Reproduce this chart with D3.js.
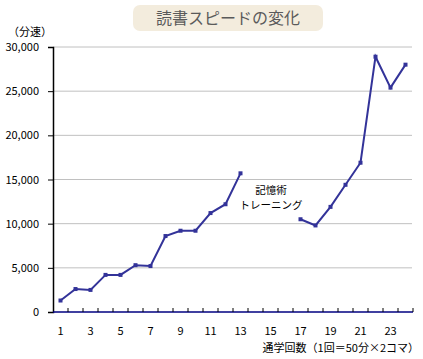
<!DOCTYPE html>
<html>
<head>
<meta charset="utf-8">
<script src="https://cdn.jsdelivr.net/npm/d3@7"></script>
<style>
body { margin: 0; background: #fff; }
text { font-family: "Noto Sans CJK JP", sans-serif; }
</style>
</head>
<body>
<svg id="chart" width="423" height="359"></svg>
<script>
// data
var sessions = d3.range(1, 25);
var speed = [1300, 2600, 2500, 4200, 4200, 5300, 5200, 8600, 9200, 9200, 11200, 12200, 15700,
  null, null, null, 10500, 9800, 11900, 14400, 16900, 28900, 25400, 28000];
var yTicks = [0, 5000, 10000, 15000, 20000, 25000, 30000];
var xLabels = [1, 3, 5, 7, 9, 11, 13, 15, 17, 19, 21, 23];

var margin = {top: 47, right: 10, bottom: 47, left: 53},
width = 423 - margin.left - margin.right,
height = 359 - margin.top - margin.bottom;

var svg = d3.select("#chart");

// title box
svg.append("rect")
.attr("x", 133).attr("y", 5).attr("width", 190).attr("height", 26)
.attr("rx", 7)
.attr("fill", "#f3ecdd");
svg.append("text")
.attr("x", 228).attr("y", 24)
.attr("text-anchor", "middle")
.attr("font-size", 16)
.attr("fill", "#5a5a5a")
.text("読書スピードの変化");

var g = svg.append("g")
.attr("transform", "translate(" + margin.left + "," + margin.top + ")");

var x = d3.scaleBand()
.domain(sessions)
.range([0, 360]);

var y = d3.scaleLinear()
.domain([0, 30000])
.range([height, 0]);

// gridlines
g.selectAll(".grid")
.data(yTicks.filter(function(d) { return d > 0; }))
.enter().append("line")
.attr("x1", 0).attr("x2", 359)
.attr("y1", function(d) { return y(d); })
.attr("y2", function(d) { return y(d); })
.attr("stroke", "#c0c0c0");

// y axis
var yAxis = g.append("g")
.call(d3.axisLeft(y).tickValues(yTicks).tickFormat(d3.format(",")).tickSize(5).tickPadding(9));
yAxis.select(".domain").attr("stroke", "#000").attr("stroke-width", 1.5);
yAxis.selectAll("text").attr("font-size", 11).attr("fill", "#000");

// x axis
var xAxis = g.append("g")
.attr("transform", "translate(0," + height + ")");
xAxis.append("line")
.attr("x1", 0).attr("x2", 360)
.attr("stroke", "#000080").attr("stroke-width", 1.5);
xAxis.selectAll(".tk")
.data(sessions)
.enter().append("line")
.attr("x1", function(d) { return x(d) + x.bandwidth(); })
.attr("x2", function(d) { return x(d) + x.bandwidth(); })
.attr("y1", -4).attr("y2", 0)
.attr("stroke", "#000");
xAxis.selectAll(".lbl")
.data(xLabels)
.enter().append("text")
.attr("x", function(d) { return x(d) + x.bandwidth() / 2; })
.attr("y", 23)
.attr("text-anchor", "middle")
.attr("font-size", 11)
.text(function(d) { return d; });

// labels
svg.append("text")
.attr("x", 8).attr("y", 36)
.attr("font-size", 11)
.text("（分速）");
svg.append("text")
.attr("x", 419).attr("y", 352)
.attr("text-anchor", "end")
.attr("font-size", 11)
.text("通学回数（1回＝50分×2コマ）");
svg.append("text")
.attr("x", 271).attr("y", 194)
.attr("text-anchor", "middle")
.attr("font-size", 10.5)
.text("記憶術");
svg.append("text")
.attr("x", 271).attr("y", 209)
.attr("text-anchor", "middle")
.attr("font-size", 10.5)
.text("トレーニング");

// line
var pts = sessions.map(function(d, i) { return {s: d, v: speed[i]}; });
g.append("path")
.datum(pts)
.attr("fill", "none")
.attr("stroke", "#333399")
.attr("stroke-width", 2)
.attr("d", d3.line()
    .defined(function(d) { return d.v != null; })
    .x(function(d) { return x(d.s) + x.bandwidth() / 2; })
    .y(function(d) { return y(d.v); })
);

g.selectAll(".pt")
.data(pts.filter(function(d) { return d.v != null; }))
.enter().append("rect")
.attr("x", function(d) { return x(d.s) + x.bandwidth() / 2 - 2; })
.attr("y", function(d) { return y(d.v) - 2; })
.attr("width", 4).attr("height", 4)
.attr("fill", "#333399");
</script>
</body>
</html>
